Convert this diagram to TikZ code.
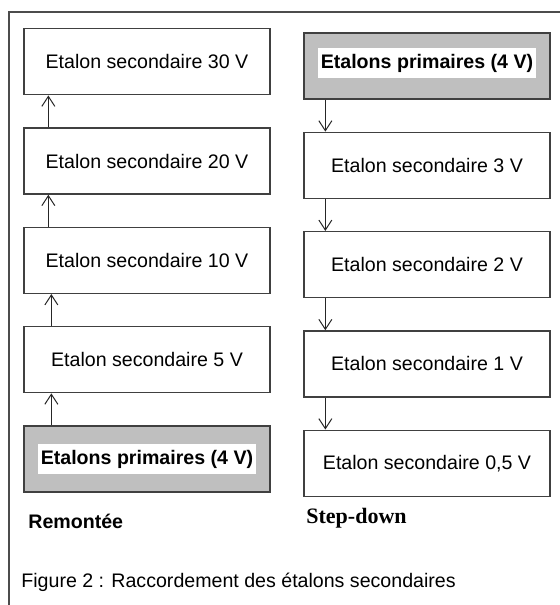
\documentclass[tikz,border=0pt]{standalone}
\usepackage{fontspec}
\setmainfont{Liberation Sans}
\newfontfamily\timesfont{Liberation Serif}
\usetikzlibrary{positioning, arrows.meta}

\tikzset{
    etalon/.style={draw=black!75, line width=0.65pt, rectangle, minimum width=123pt, minimum height=33pt, inner sep=0pt, font=\fontsize{9.8}{12}\selectfont},
    primaire/.style={etalon, fill=black!25},
    primtext/.style={fill=white, inner xsep=1.2pt, inner ysep=2.5pt, text height=7.5pt, text depth=2.5pt, font=\fontsize{9.8}{12}\selectfont\bfseries},
    fleche/.style={-{Straight Barb[length=5pt, width=6.5pt]}, line width=0.5pt, black!85},
    legende/.style={anchor=west, inner sep=0pt, font=\fontsize{9.8}{12}\selectfont},
}

\begin{document}
\begin{tikzpicture}[x=0.5pt, y=-0.5pt]
    \useasboundingbox (0, 0) rectangle (560, 605);
    \draw[black!70, line width=0.75pt] (9, 605) -- (9, 12) -- (560, 12);

    % remontee
    \node (prim1) [primaire] at (147, 459) {};
    \node (prim1t) [primtext] at (prim1) {Etalons primaires (4 V)};
    \node (sec5) [etalon, above=16pt of prim1] {Etalon secondaire 5 V};
    \node (sec10) [etalon, above=16pt of sec5] {Etalon secondaire 10 V};
    \node (sec20) [etalon, above=16pt of sec10] {Etalon secondaire 20 V};
    \node (sec30) [etalon, above=16pt of sec20] {Etalon secondaire 30 V};

    \draw [fleche] ([xshift=14pt]prim1.north west) -- ([xshift=14pt]sec5.south west);
    \draw [fleche] ([xshift=14pt]sec5.north west) -- ([xshift=14pt]sec10.south west);
    \draw [fleche] ([xshift=12.5pt]sec10.north west) -- ([xshift=12.5pt]sec20.south west);
    \draw [fleche] ([xshift=12.5pt]sec20.north west) -- ([xshift=12.5pt]sec30.south west);

    % step-down
    \node (prim2) [primaire] at (427, 66) {};
    \node (prim2t) [primtext, yshift=1.5pt] at (prim2) {Etalons primaires (4 V)};
    \node (sec3) [etalon, below=16pt of prim2] {Etalon secondaire 3 V};
    \node (sec2) [etalon, below=16pt of sec3] {Etalon secondaire 2 V};
    \node (sec1) [etalon, below=16pt of sec2] {Etalon secondaire 1 V};
    \node (sec05) [etalon, below=16pt of sec1] {Etalon secondaire 0,5 V};

    \draw [fleche] ([xshift=11pt]prim2.south west) -- ([xshift=11pt]sec3.north west);
    \draw [fleche] ([xshift=11pt]sec3.south west) -- ([xshift=11pt]sec2.north west);
    \draw [fleche] ([xshift=11pt]sec2.south west) -- ([xshift=11pt]sec1.north west);
    \draw [fleche] ([xshift=11pt]sec1.south west) -- ([xshift=11pt]sec05.north west);

    \node (remontee) [legende, font=\fontsize{9.8}{12}\selectfont\bfseries] at (28, 521) {Remontée};
    \node (stepdown) [legende, font=\fontsize{11}{13}\timesfont\bfseries] at (306, 518) {Step-down};
    \node (figure) [legende] at (21, 582) {Figure 2 : Raccordement des étalons secondaires};
\end{tikzpicture}
\end{document}
